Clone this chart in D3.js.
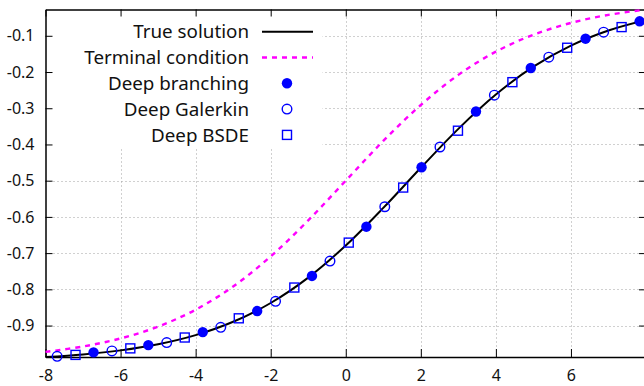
<!DOCTYPE html>
<html>
<head>
<meta charset="utf-8">
<script src="https://cdn.jsdelivr.net/npm/d3@7"></script>
<style>
  html, body { margin: 0; padding: 0; background: #fff; }
  svg { display: block; font-family: "Noto Sans", "DejaVu Sans", sans-serif; }
</style>
</head>
<body>
<svg id="chart" width="644" height="386"></svg>
<script>
// Reference curves sampled on integer x
const curveX = [-8, -7, -6, -5, -4, -3, -2, -1, 0, 1, 2, 3, 4, 5, 6, 7, 8];
const trueSolution = [-0.9868, -0.9796, -0.9685, -0.9516, -0.9264, -0.8896, -0.8377, -0.7676,
  -0.6790, -0.5752, -0.4644, -0.3569, -0.2622, -0.1853, -0.1271, -0.0853, -0.0563];
const terminalCondition = [-0.9726, -0.9578, -0.9356, -0.9029, -0.8562, -0.7921, -0.7090, -0.6097,
  -0.5000, -0.3903, -0.2910, -0.2079, -0.1438, -0.0971, -0.0644, -0.0422, -0.0274];

// Solver estimates
const branchingX = [-6.72, -5.26, -3.81, -2.36, -0.90, 0.55, 2.02, 3.47, 4.93, 6.39, 7.83];
const branchingY = [-0.974, -0.954, -0.918, -0.860, -0.763, -0.627, -0.463, -0.309, -0.189, -0.108, -0.060];
const galerkinX = [-7.69, -6.23, -4.77, -3.33, -1.87, -0.42, 1.04, 2.51, 3.96, 5.41, 6.87];
const galerkinY = [-0.985, -0.970, -0.947, -0.905, -0.833, -0.722, -0.572, -0.407, -0.264, -0.159, -0.090];
const bsdeX = [-7.20, -5.74, -4.29, -2.85, -1.37, 0.08, 1.53, 2.99, 4.44, 5.90, 7.35];
const bsdeY = [-0.981, -0.963, -0.933, -0.880, -0.795, -0.671, -0.519, -0.362, -0.228, -0.133, -0.076];

// Axis ticks (the x = 8 tick sits on the right border, past the canvas edge)
const xTicks = [-8, -6, -4, -2, 0, 2, 4, 6, 8];
const xLabels = ["-8", "-6", "-4", "-2", "0", "2", "4", "6", ""];
const yTicks = [-0.9, -0.8, -0.7, -0.6, -0.5, -0.4, -0.3, -0.2, -0.1];
const yLabels = ["-0.9", "-0.8", "-0.7", "-0.6", "-0.5", "-0.4", "-0.3", "-0.2", "-0.1"];

const legendLabels = ["True solution", "Terminal condition", "Deep branching", "Deep Galerkin", "Deep BSDE"];

const svg = d3.select("#chart");
const m = { left: 45.5, right: 646, top: 9.5, bottom: 357 };

const x = d3.scaleLinear().domain(d3.extent(curveX)).range([m.left, m.right]);
const y = d3.scaleLinear()
  .domain([d3.min(trueSolution), d3.max(terminalCondition)])
  .range([m.bottom, m.top]);

const BLUE = "#0000ff", MAGENTA = "#ff00ff";

// Grid
const grid = svg.append("g").attr("stroke", "#a0a0a0").attr("stroke-width", 1)
  .attr("stroke-dasharray", "1,3");
grid.selectAll("line.gx").data(xTicks.slice(1, -1)).join("line")
  .attr("x1", d => Math.round(x(d)) + 0.5).attr("x2", d => Math.round(x(d)) + 0.5)
  .attr("y1", m.top).attr("y2", m.bottom);
grid.selectAll("line.gy").data(yTicks).join("line")
  .attr("y1", d => Math.round(y(d)) + 0.5).attr("y2", d => Math.round(y(d)) + 0.5)
  .attr("x1", m.left).attr("x2", m.right);

// Opaque legend area
svg.append("rect").attr("x", m.left).attr("y", m.top).attr("width", 277).attr("height", 139)
  .attr("fill", "#fff");

// Axes: ticks point inward, mirrored on top and right
const axisBottom = d3.axisBottom(x).tickValues(xTicks).tickSizeInner(-8).tickSizeOuter(0)
  .tickPadding(13).tickFormat((d, i) => xLabels[i]);
const gxb = svg.append("g").attr("transform", `translate(0,${m.bottom})`).call(axisBottom);
const axisTop = d3.axisTop(x).tickValues(xTicks).tickSizeInner(-7).tickSizeOuter(0).tickFormat("");
const gxt = svg.append("g").attr("transform", `translate(0,${m.top})`).call(axisTop);
const axisLeft = d3.axisLeft(y).tickValues(yTicks).tickSizeInner(-7).tickSizeOuter(0)
  .tickPadding(11).tickFormat((d, i) => yLabels[i]);
const gyl = svg.append("g").attr("transform", `translate(${m.left},0)`).call(axisLeft);
const axisRight = d3.axisRight(y).tickValues(yTicks).tickSizeInner(-7).tickSizeOuter(0).tickFormat("");
const gyr = svg.append("g").attr("transform", `translate(${m.right},0)`).call(axisRight);

[gxb, gxt, gyl, gyr].forEach(g => {
  g.select(".domain").attr("stroke", "#000").attr("stroke-width", 1.5);
  g.selectAll(".tick line").attr("stroke", "#000").attr("stroke-width", 1);
  g.selectAll(".tick text").attr("fill", "#111").style("font-size", "16px")
    .style("font-family", "'Noto Sans', 'DejaVu Sans', sans-serif");
});

// Curves
const line = d3.line().x(d => x(d[0])).y(d => y(d[1])).curve(d3.curveCatmullRom.alpha(0.5));
const plot = svg.append("g");
plot.append("path").datum(d3.zip(curveX, terminalCondition)).attr("d", line)
  .attr("fill", "none").attr("stroke", MAGENTA).attr("stroke-width", 2.4)
  .attr("stroke-dasharray", "5,5");
plot.append("path").datum(d3.zip(curveX, trueSolution)).attr("d", line)
  .attr("fill", "none").attr("stroke", "#000").attr("stroke-width", 2);

// Markers
function filledCircle(g) { g.append("circle").attr("r", 5.2).attr("fill", BLUE); }
function openCircle(g) { g.append("circle").attr("r", 4.8).attr("fill", "none").attr("stroke", BLUE).attr("stroke-width", 1.4); }
function square(g) { g.append("rect").attr("x", -4.5).attr("y", -4.5).attr("width", 9).attr("height", 9)
  .attr("fill", "none").attr("stroke", BLUE).attr("stroke-width", 1.4); }

function drawPoints(xs, ys, shape) {
  d3.zip(xs, ys).forEach(p => {
    const g = plot.append("g").attr("transform", `translate(${x(p[0])},${y(p[1])})`);
    shape(g);
  });
}
drawPoints(galerkinX, galerkinY, openCircle);
drawPoints(bsdeX, bsdeY, square);
drawPoints(branchingX, branchingY, filledCircle);

// Legend
const legend = svg.append("g");
const rowY = i => 31.7 + i * 25.8;
legendLabels.forEach((label, i) => {
  legend.append("text").attr("x", 249).attr("y", rowY(i)).attr("dy", "0.36em")
    .attr("text-anchor", "end").attr("fill", "#111").style("font-size", "18.8px").text(label);
});
legend.append("line").attr("x1", 262).attr("x2", 313).attr("y1", rowY(0)).attr("y2", rowY(0))
  .attr("stroke", "#000").attr("stroke-width", 2);
legend.append("line").attr("x1", 262).attr("x2", 313).attr("y1", rowY(1)).attr("y2", rowY(1))
  .attr("stroke", MAGENTA).attr("stroke-width", 2.4).attr("stroke-dasharray", "5,5");
[filledCircle, openCircle, square].forEach((shape, k) => {
  shape(legend.append("g").attr("transform", `translate(287,${rowY(k + 2)})`));
});
</script>
</body>
</html>
